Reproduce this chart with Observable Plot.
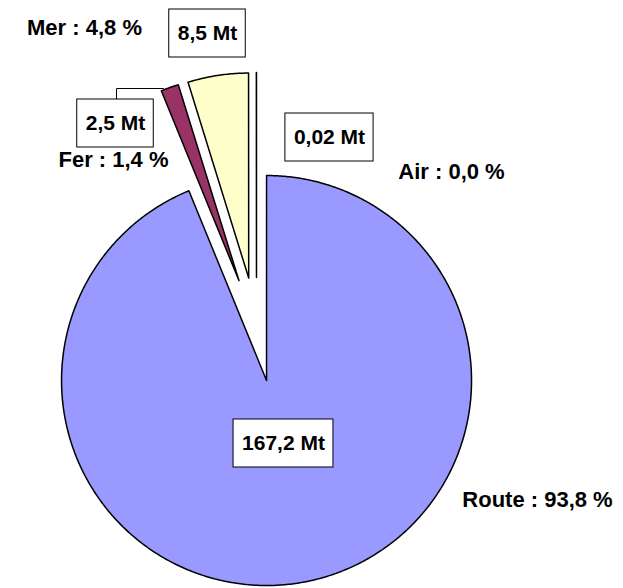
<!DOCTYPE html>
<html><head><meta charset="utf-8">
<script src="https://cdn.jsdelivr.net/npm/d3@7"></script>
<script src="https://cdn.jsdelivr.net/npm/@observablehq/plot@0.6"></script>
<style>body{margin:0;background:#fff}</style>
</head><body><div id="chart"></div>
<script>
// ---- data ----
const modes = ["Route", "Fer", "Mer", "Air"];
const tonnages = [167.2, 2.5, 8.5, 0.02]; // Mt
const colors = ["#9999FF", "#993366", "#FFFFCC", "#CCFFFF"];

// ---- layout ----
const W = 623, H = 588;
const cx = 256, cy = 329, R = 205, explode = 52;
const catLabelPos = [[537, 499], [113, 159], [84, 27], [451, 171]];
const valLabelPos = [[283, 443], [115, 123], [207, 33], [329, 137]];
const ferLeader = [[116, 99], [116, 88], [163, 88]];
const FONT = "'Liberation Sans', Arial, Helvetica, sans-serif";
const valSize = 21, catSize = 22, padX = 8.5, boxH = 48;

const fr = v => String(v).replace(".", ",");
const total = d3.sum(tonnages);
const arcs = d3.pie().sort(null).value(d => d)(tonnages);

const pts = [];
arcs.forEach((p, i) => {
  const mid = (p.startAngle + p.endAngle) / 2;
  const ax = cx + explode * Math.sin(mid), ay = cy - explode * Math.cos(mid);
  const poly = [[ax, ay]];
  const n = Math.max(2, Math.ceil((p.endAngle - p.startAngle) / (Math.PI / 360)));
  for (let k = 0; k <= n; k++) {
    const a = p.startAngle + (p.endAngle - p.startAngle) * k / n;
    poly.push([ax + R * Math.sin(a), ay - R * Math.cos(a)]);
  }
  poly.push([ax, ay]);
  poly.forEach(([x, y]) => pts.push({mode: modes[i], color: colors[i], x, y}));
});

const ctx = document.createElement("canvas").getContext("2d");
ctx.font = `bold ${valSize}px ${FONT}`;
const boxes = tonnages.map((v, i) => {
  const text = fr(v) + " Mt";
  const w = ctx.measureText(text).width + 2 * padX;
  const [x, y] = valLabelPos[i];
  return {text, x, y, x1: x - w / 2, x2: x + w / 2, y1: y - boxH / 2, y2: y + boxH / 2};
});
const cats = modes.map((m, i) => ({
  text: `${m} : ${(tonnages[i] / total * 100).toFixed(1).replace(".", ",")} %`,
  x: catLabelPos[i][0], y: catLabelPos[i][1]
}));

const plot = Plot.plot({
  width: W, height: H, margin: 0,
  x: {domain: [0, W], range: [0, W], axis: null},
  y: {domain: [0, H], range: [0, H], axis: null},
  style: {fontFamily: FONT, background: "#fff"},
  marks: [
    Plot.line(pts, {x: "x", y: "y", z: "mode", fill: "color", stroke: "#000", strokeWidth: 1.5}),
    Plot.line(ferLeader, {x: d => d[0], y: d => d[1], stroke: "#000", strokeWidth: 1}),
    Plot.rect(boxes, {x1: "x1", x2: "x2", y1: "y1", y2: "y2", fill: "#fff", stroke: "#000", strokeWidth: 1}),
    Plot.text(boxes, {x: "x", y: "y", text: "text", fontSize: valSize, fontWeight: "bold", fill: "#000"}),
    Plot.text(cats, {x: "x", y: "y", text: "text", fontSize: catSize, fontWeight: "bold", fill: "#000"})
  ]
});
document.getElementById("chart").appendChild(plot);
</script>
</body></html>
